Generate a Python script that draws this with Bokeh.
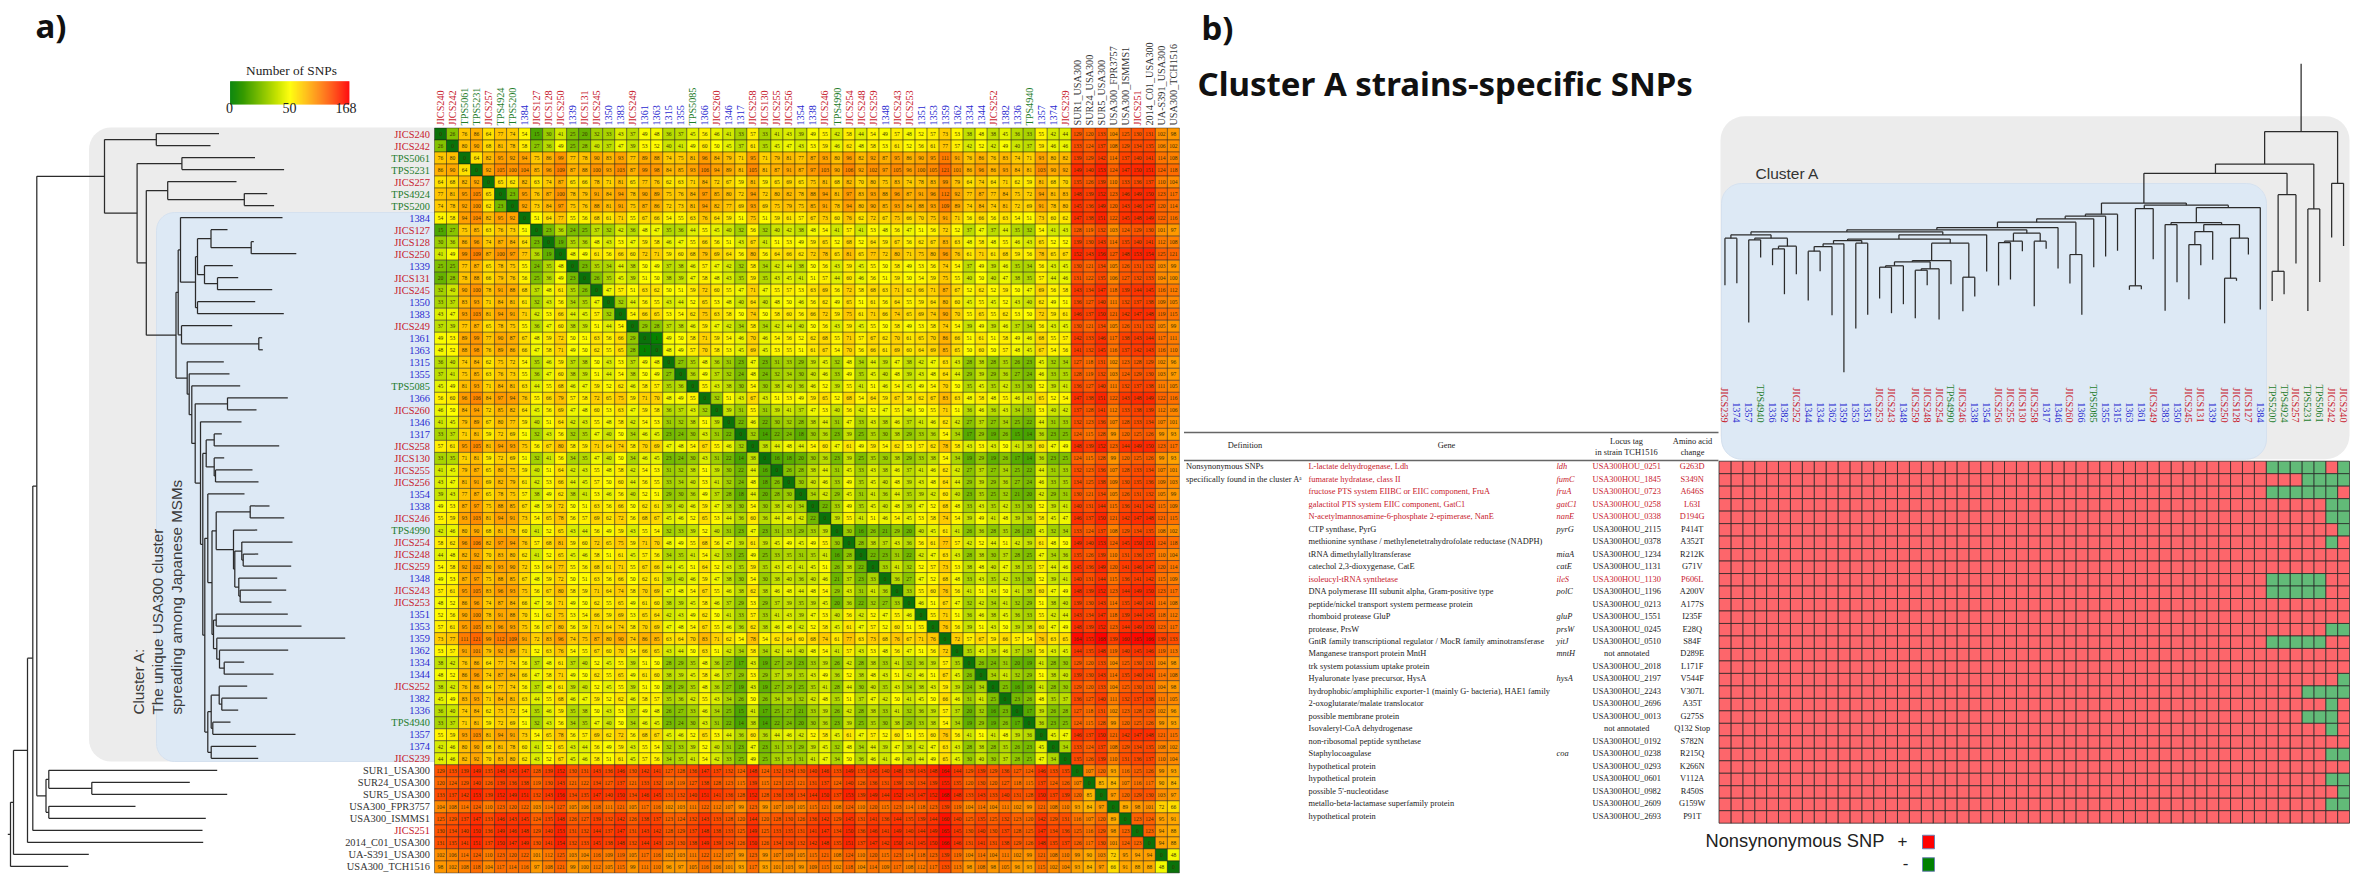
import numpy as np
from bokeh.embed import file_html
from bokeh.resources import INLINE
from bokeh.plotting import figure
from bokeh.models import Range1d, ColumnDataSource
from bokeh.core.properties import value

strains = ["JICS240","JICS242","TPS5061","TPS5231","JICS257","TPS4924","TPS5200","1384","JICS127","JICS128","JICS250","1339","JICS131","JICS245","1350","1383","JICS249","1361","1363","1315","1355","TPS5085","1366","JICS260","1346","1317","JICS258","JICS130","JICS255","JICS256","1354","1338","JICS246","TPS4990","JICS254","JICS248","JICS259","1348","JICS243","JICS253","1351","1353","1359","1362","1334","1344","JICS252","1382","1336","TPS4940","1357","1374","JICS239"]
outgroup = ["SUR1_USA300","SUR24_USA300","SUR5_USA300","USA300_FPR3757","USA300_ISMMS1","JICS251","2014_C01_USA300","UA-S391_USA300","USA300_TCH1516"]

# SNP distances among the 53 clustered strains: upper triangle, row by row
snps_upper = """26 76 86 64 77 74 54 15 30 41 25 20 32 33 43 37 49 48 36 37 45 56 46 41 33 57 33 41 43 39 49 55 42 58 44 54 49 57 48 52 57 73 53 38 48 38 45 36 33 55 42 44
80 90 68 81 78 58 27 36 49 25 28 40 37 47 39 53 52 40 41 49 60 50 45 37 61 35 45 47 43 53 59 46 62 48 58 53 61 52 56 61 77 57 42 52 42 49 40 37 59 46 46
64 82 95 92 94 75 86 99 77 78 90 83 93 77 89 88 74 75 81 96 84 79 71 95 71 79 81 77 87 93 80 96 82 92 87 95 86 90 95 111 91 76 86 76 83 74 71 93 80 82
92 105 100 104 85 96 109 87 88 100 93 103 87 99 98 84 85 93 106 94 89 81 105 81 87 91 87 97 103 90 106 92 102 97 105 96 100 105 121 101 86 96 86 93 84 81 103 90 92
65 62 82 63 74 87 65 66 78 71 81 65 77 76 62 63 71 84 72 67 59 81 59 65 69 65 75 81 68 82 70 80 75 83 74 78 83 99 79 64 74 64 71 62 59 81 68 70
23 95 76 87 100 78 79 91 84 94 78 90 89 75 76 84 97 85 80 72 94 72 80 82 78 88 94 81 97 83 93 88 96 87 91 96 112 92 77 87 77 84 75 72 94 81 83
92 73 84 97 75 76 88 81 91 75 87 86 72 73 81 94 82 77 69 93 69 75 79 75 85 91 78 94 80 90 85 93 84 88 93 109 89 74 84 74 81 72 69 91 78 80
51 64 77 55 56 68 61 71 55 67 66 54 55 63 76 64 59 51 75 51 59 61 57 67 73 60 76 62 72 67 75 66 70 75 91 71 56 66 56 63 54 51 73 60 62
23 36 24 25 37 32 42 36 48 47 35 36 44 55 45 40 32 56 32 40 42 38 48 54 41 57 41 53 48 56 47 51 56 72 52 37 47 37 44 35 32 54 41 43
19 35 36 48 43 53 47 59 58 46 47 55 66 56 51 43 67 41 51 53 49 59 65 52 68 52 64 59 67 56 62 67 83 63 48 58 48 55 46 43 65 52 52
48 49 61 56 66 60 72 71 59 60 68 79 69 64 56 80 56 64 66 62 72 78 65 81 65 77 72 80 71 75 80 96 76 61 71 61 68 59 56 78 65 67
23 35 34 44 38 50 49 37 38 46 57 47 42 32 58 34 42 44 38 50 56 43 59 45 55 50 58 49 53 56 74 54 37 49 39 46 35 34 56 43 45
26 35 45 39 51 50 38 39 47 58 48 43 35 59 35 43 45 41 51 57 44 60 46 56 51 59 50 54 59 75 55 40 50 40 47 38 35 57 44 46
47 57 51 63 62 50 51 59 72 60 55 47 71 47 55 57 53 63 69 56 72 58 68 63 71 62 66 71 87 67 52 62 52 59 50 47 69 56 58
32 44 56 55 43 44 52 65 53 48 40 64 40 48 50 46 56 62 49 65 51 61 56 64 55 59 64 80 60 45 55 45 52 43 40 62 49 51
54 66 65 53 54 62 75 63 58 50 74 50 58 60 56 66 72 59 75 61 71 66 74 65 69 74 90 70 55 65 55 62 53 50 72 59 61
29 28 37 38 46 59 47 42 34 58 34 42 44 40 50 56 43 59 45 55 50 58 49 53 58 74 54 39 49 39 46 37 34 56 43 45
1 49 50 58 71 59 54 46 70 46 54 56 52 62 68 55 71 57 67 62 70 61 65 70 86 66 51 61 51 58 49 46 68 55 57
48 49 57 70 58 53 45 69 45 53 55 51 61 67 54 70 56 66 61 69 60 64 69 85 65 50 60 50 57 48 45 67 54 56
27 35 48 36 31 23 47 23 31 33 29 39 45 32 48 34 44 39 47 38 42 47 63 43 28 38 28 35 26 23 45 32 34
36 49 37 32 24 48 24 32 34 30 40 46 33 49 35 45 40 48 39 43 48 64 44 29 39 29 36 27 24 46 33 35
55 43 38 30 54 30 38 40 36 46 52 39 55 41 51 46 54 45 49 54 70 50 35 45 35 42 33 30 52 39 41
32 51 43 67 43 51 53 49 59 65 52 68 54 64 59 67 58 62 67 83 63 48 58 48 55 46 43 65 52 54
39 31 55 31 39 41 37 47 53 40 56 42 52 47 55 46 50 55 71 51 36 46 36 43 34 31 53 40 42
22 46 22 30 32 28 38 44 31 47 33 43 38 46 37 41 46 62 42 27 37 27 34 25 22 44 31 33
32 14 22 24 18 30 36 23 39 25 35 30 38 29 33 36 54 34 17 29 19 26 15 14 36 23 25
38 44 48 44 54 60 47 61 49 59 54 62 53 57 62 78 58 43 53 43 50 41 38 60 47 49
16 18 20 30 36 23 39 25 35 30 38 29 33 38 54 34 19 29 19 26 17 14 36 23 25
26 28 38 44 31 45 33 43 38 46 37 41 46 62 42 27 37 27 34 25 22 44 31 33
30 40 46 33 49 35 45 40 48 39 43 48 64 44 29 39 29 36 27 24 46 33 35
34 42 29 45 31 41 36 44 35 39 42 60 40 23 35 25 32 21 20 42 29 31
22 33 49 35 45 40 48 39 47 52 68 48 33 43 35 42 33 30 52 39 41
39 55 41 51 46 54 45 53 58 74 54 39 49 41 48 39 36 58 45 47
30 16 26 21 29 20 40 45 61 41 26 36 28 35 26 23 45 32 34
28 38 37 43 36 56 61 77 57 42 52 44 51 42 39 61 48 50
22 23 31 22 42 47 63 43 28 38 30 37 28 25 47 34 36
33 41 32 52 57 73 53 38 48 40 47 38 35 57 44 46
36 27 47 52 68 48 33 43 35 42 33 30 52 39 41
33 55 60 76 56 41 51 43 50 41 38 60 47 49
46 51 67 47 32 42 34 41 32 29 51 38 40
55 71 51 36 46 38 45 36 33 55 42 44
76 56 39 51 43 50 39 38 60 47 49
72 57 67 59 66 57 54 76 63 65
35 45 39 46 37 34 56 43 45
26 24 31 20 19 41 28 30
34 41 32 29 51 38 40
25 16 19 41 28 30
23 26 48 35 37
17 39 26 28
36 23 25
45 47
34"""

# SNP distance of each outgroup strain to the 53 clustered strains
sur1_row = [129,133,139,149,135,148,145,147,128,139,152,130,131,143,136,146,130,142,141,127,128,136,147,137,132,124,148,124,132,134,130,140,146,133,149,135,145,140,148,139,143,148,164,144,129,139,129,136,127,124,146,133,135]
sur24_row = [120,124,129,140,126,139,136,138,119,130,143,121,122,134,127,137,121,133,132,118,119,127,138,128,123,115,139,115,123,125,121,131,137,124,140,126,136,131,139,130,134,139,155,135,120,130,120,127,118,115,137,124,126]
sur5_row = [133,137,142,153,139,152,149,151,132,143,156,134,135,147,140,150,134,146,145,131,132,140,151,141,136,128,152,128,136,138,134,144,150,137,153,139,149,144,152,143,147,152,168,148,133,143,133,140,131,128,150,137,139]
fpr_row = [104,108,114,124,110,123,120,122,103,114,127,105,106,118,111,121,105,117,116,102,103,111,122,112,107,99,123,99,107,109,105,115,121,108,124,110,120,115,123,114,118,123,139,119,104,114,104,111,102,99,121,108,110]
ismms_row = [125,129,137,147,133,146,143,145,124,135,148,126,127,139,132,142,126,138,137,123,124,132,143,133,128,120,144,120,128,130,126,136,142,129,145,131,141,136,144,135,139,144,160,140,125,135,125,132,123,120,142,129,131]
j251_row = [130,134,140,150,136,149,146,148,129,140,153,131,132,144,137,147,131,143,142,128,129,137,148,138,133,125,149,125,133,135,131,141,147,134,150,136,146,141,149,140,144,149,165,145,130,140,130,137,128,125,147,134,136]
c01_row = [131,135,141,151,137,150,147,149,130,141,154,132,133,145,138,148,132,144,143,129,130,138,149,139,134,126,150,126,134,136,132,142,148,135,151,137,147,142,150,141,145,150,166,146,131,141,131,138,129,126,148,135,137]
ua_row = [102,106,114,124,110,123,120,122,101,112,125,103,104,116,109,119,105,117,116,102,103,111,122,112,107,99,123,99,107,109,105,115,121,108,124,110,120,115,123,114,118,123,139,119,104,114,104,111,102,99,121,108,110]
tch_row = [98,102,108,118,104,117,114,116,97,108,121,99,100,112,105,115,99,111,110,96,97,105,116,106,101,93,117,93,101,103,99,109,115,102,118,104,114,109,117,108,112,117,133,113,98,108,98,105,96,93,115,102,104]
outgroup_rows = [sur1_row, sur24_row, sur5_row, fpr_row, ismms_row, j251_row, c01_row, ua_row, tch_row]
outgroup_block = [
    [0,107,120,93,116,125,126,99,93],
    [107,0,85,84,107,116,117,90,84],
    [120,85,0,97,120,129,130,103,97],
    [93,84,97,0,89,98,101,72,66],
    [116,107,120,89,0,123,124,95,91],
    [125,116,129,98,123,0,123,94,88],
    [126,117,130,101,124,123,0,94,88],
    [99,90,103,72,95,94,94,0,48],
    [93,84,97,66,91,88,88,48,0],
]

# Phylogeny: (depth, child, child) or (depth of tip, strain)
c_S = (197, (210.5, (227,"JICS127"), (250.7, (253.3,"JICS128"), (295.8,"JICS250"))), (204, (232.3,"1339"), (217, (237.7,"JICS131"), (271.7,"JICS245"))))
c_Q = (195, c_S, (197, (254.7,"1350"), (283.3,"1383")))
c_P = (180, (282,"1384"), c_Q)
c_Z = (181, (231.7,"JICS249"), (258.3, (261.7,"1361"), (262.3,"1363")))
c_N = (177.7, c_P, c_Z)
c_OO = (234.3, (241.3, (292,"JICS254"), (242.7, (257.7,"JICS248"), (290.7,"JICS259"))), (238.3, (276.7,"1348"), (239.7, (285.7,"JICS243"), (271,"JICS253"))))
c_UU = (215.7, (249.7, (269,"1338"), (283.7,"JICS246")), (233, (256.7,"TPS4990"), c_OO))
c_VV = (213, (215.7, (287.3,"1351"), (301,"1353")), (216.3, (344.7,"1359"), (219, (287.7,"1362"), (223.7, (243.7,"1334"), (273,"1344")))))
c_JJ = (207.3, (244,"1354"), (211.5, c_UU, c_VV))
c_KK = (207.3, (210.7, (218.7, (246.7,"JICS252"), (221.3, (266.7,"1382"), (237.7,"1336"))), (212.3, (230,"TPS4940"), (295,"1357"))), (210.7, (255.7,"1374"), (257.7,"JICS239")))
c_HH = (205.7, (213.7, (221.3,"1317"), (278.7,"JICS258")), (213.7, (223.7,"JICS130"), (215, (252,"JICS255"), (258,"JICS256"))))
c_GG = (202.3, c_HH, (204.3, c_JJ, c_KK))
c_DD = (194.7, (227, (287.3,"1366"), (256,"JICS260")), (200, (241,"1346"), c_GG))
c_AA = (186.7, (223.3,"1315"), (188.7, (229,"1355"), (191.3, (239.7,"TPS5085"), c_DD)))
c_A = (175.5, c_N, c_AA)
c_J = (145.8, (167.2, (236,"JICS257"), (243.8, (266.7,"TPS4924"), (273.6,"TPS5200"))), c_A)
clade_main = (104, (155.8, (218.5,"JICS240"), (210,"JICS242")), (136.6, (181.4, (254.5,"TPS5061"), (283.6,"TPS5231")), c_J))
clade_outgroup = (45.5,
  (48.3, (216.7,"SUR1_USA300"), (91.3, (189.3,"SUR24_USA300"), (226.7,"SUR5_USA300"))),
  (48.3, (135,"USA300_FPR3757"), (205.3,"USA300_ISMMS1")))
tree_root = (10,
  (13,
    (27,
      (32.3, (36.3, clade_main, clade_outgroup), (202,"JICS251")),
      (202.7,"2014_C01_USA300")),
    (88.3,"UA-S391_USA300")),
  (67.7,"USA300_TCH1516"))

# Table b)
gene_names = ["L-lactate dehydrogenase, Ldh","fumarate hydratase, class II","fructose PTS system EIIBC or EIIC component, FruA","galactitol PTS system EIIC component, GatC1","N-acetylmannosamine-6-phosphate 2-epimerase, NanE","CTP synthase, PyrG","methionine synthase / methylenetetrahydrofolate reductase (NADPH)","tRNA dimethylallyltransferase","catechol 2,3-dioxygenase, CatE","isoleucyl-tRNA synthetase","DNA polymerase III subunit alpha, Gram-positive type","peptide/nickel transport system permease protein","rhomboid protease GluP","protease, PrsW","GntR family transcriptional regulator / MocR family aminotransferase","Manganese transport protein MntH","trk system potassium uptake protein","Hyaluronate lyase precursor, HysA","hydrophobic/amphiphilic exporter-1 (mainly G- bacteria), HAE1 family","2-oxoglutarate/malate translocator","possible membrane protein","Isovaleryl-CoA dehydrogenase","non-ribosomal peptide synthetase","Staphylocoagulase","hypothetical protein","hypothetical protein","possible 5'-nucleotidase","metallo-beta-lactamase superfamily protein","hypothetical protein"]
gene_symbols = ["ldh","fumC","fruA","gatC1","nanE","pyrG","","miaA","catE","ileS","polC","","gluP","prsW","yitJ","mntH","","hysA","","","","","","coa","","","","",""]
locus_tags = ["USA300HOU_0251","USA300HOU_1845","USA300HOU_0723","USA300HOU_0258","USA300HOU_0338","USA300HOU_2115","USA300HOU_0378","USA300HOU_1234","USA300HOU_1131","USA300HOU_1130","USA300HOU_1196","USA300HOU_0213","USA300HOU_1551","USA300HOU_0245","USA300HOU_0510","not annotated","USA300HOU_2018","USA300HOU_2197","USA300HOU_2243","USA300HOU_2696","USA300HOU_0013","not annotated","USA300HOU_0192","USA300HOU_0238","USA300HOU_0293","USA300HOU_0601","USA300HOU_0982","USA300HOU_2609","USA300HOU_2693"]
aa_changes = ["G263D","S349N","A646S","L63I","D194G","P414T","A352T","R212K","G71V","P606L","A200V","A177S","I235F","E28Q","S84F","D289E","L171F","V544F","V307L","A35T","G275S","Q132 Stop","S782N","R215Q","K266N","V112A","R450S","G159W","P91T"]
highlighted_genes = ["ldh","fumC","fruA","gatC1","nanE","ileS"]
# Strains lacking each nonsynonymous SNP (every other strain carries it)
five_tps = ["TPS5200","TPS4924","JICS257","TPS5231","TPS5061"]
snp_absent = [
    five_tps+["JICS240"], ["TPS5231","TPS5061","JICS242","JICS240"], five_tps+["JICS242"],
    ["JICS242","JICS240"], ["JICS242","JICS240"], ["JICS240"], ["JICS242"], [], [],
    five_tps, five_tps, [], [], ["JICS242","JICS240"], five_tps, [], [], ["JICS240"],
    ["TPS5231","TPS5061","JICS242","JICS240"], ["JICS242"], ["TPS5231","TPS5061","JICS242"],
    ["JICS242"], [], ["JICS242","JICS240"], [], ["JICS242","JICS240"], ["JICS240"],
    ["JICS242","JICS240"], [],
]
legend_ticks = [0, 50, 168]

# --- assemble the matrix ---
all_strains = strains + outgroup
N = len(all_strains)
M = np.zeros((N, N), dtype=int)
for i, line in enumerate(snps_upper.split("\n")):
    vals = [int(v) for v in line.split()]
    assert len(vals) == 52 - i, f"row {i} has {len(vals)}"
    for k, v in enumerate(vals):
        M[i, i+1+k] = M[i+1+k, i] = v
for o, rowvals in enumerate(outgroup_rows):
    assert len(rowvals) == 53, f"outgroup {o} {len(rowvals)}"
    for j, v in enumerate(rowvals):
        M[53+o, j] = M[j, 53+o] = v
    for j, v in enumerate(outgroup_block[o]):
        M[53+o, 53+j] = v

def snp_color(v):
    if v <= 50:
        t = v/50
        r, g, b = 255*t, 128+127*t, 0
    else:
        t = min((v-50)/118, 1)
        r, g, b = 255, 255*(1-t), 0
    return "#%02x%02x%02x" % (int(r), int(g), int(b))

RED, GREEN, BLUE, BLACK = "#c8202c", "#1f7d2c", "#2a2ad0", "#333333"
def label_color(s):
    if s.startswith("JICS"): return RED
    if s.startswith("TPS"): return GREEN
    if s[0].isdigit() and "_" not in s: return BLUE
    return BLACK

W, H = 2360, 881
p = figure(width=W, height=H, output_backend="svg", toolbar_location=None,
           x_range=Range1d(0, W), y_range=Range1d(H, 0),
           x_axis_type=None, y_axis_type=None, min_border=0,
           outline_line_color=None, background_fill_color="white", border_fill_color="white")
p.grid.visible = False

SERIF = value("Liberation Serif")
SANS = value("Liberation Sans")

def rounded(x0, y0, x1, y1, r):
    xs, ys = [], []
    def arc(cx, cy, a0):
        for a in np.linspace(a0, a0+np.pi/2, 10):
            xs.append(cx+r*np.cos(a)); ys.append(cy+r*np.sin(a))
    arc(x1-r, y0+r, -np.pi/2)
    arc(x1-r, y1-r, 0)
    arc(x0+r, y1-r, np.pi/2)
    arc(x0+r, y0+r, np.pi)
    return xs, ys

def left_panel(x0, y0, x1, y1, r):
    xs, ys = [x1, x0+r], [y0, y0]
    for a in np.linspace(-np.pi/2, -np.pi, 10):
        xs.append(x0+r+r*np.cos(a)); ys.append(y0+r+r*np.sin(a))
    for a in np.linspace(np.pi, np.pi/2, 10):
        xs.append(x0+r+r*np.cos(a)); ys.append(y1-r+r*np.sin(a))
    xs.append(x1); ys.append(y1)
    return xs, ys

GRAY_BG, BLUE_BG = "#ececec", "#dde9f5"
gx, gy = left_panel(88.5, 127, 434, 761, 22)
p.patch(gx, gy, fill_color=GRAY_BG, line_color=None)
bx, by = left_panel(156, 212, 434, 761, 18)
p.patch(bx, by, fill_color=BLUE_BG, line_color="#d5e1ef", line_width=1)
gx, gy = rounded(1720, 115.7, 2349, 458.7, 24)
p.patch(gx, gy, fill_color=GRAY_BG, line_color=None)
bx, by = rounded(1721, 183, 2266, 458.7, 20)
p.patch(bx, by, fill_color=BLUE_BG, line_color="#d5e1ef", line_width=1)

# --- heat map a) ---
MX0, MY0, CELL = 434.0, 127.5, 12.015
cx = lambda i: MX0 + CELL*(i+.5)
cy = lambda i: MY0 + CELL*(i+.5)
xs_, ys_, cols_, txt_ = [], [], [], []
for i in range(N):
    for j in range(N):
        xs_.append(cx(j)); ys_.append(cy(i)); txt_.append(str(M[i, j]))
        cols_.append("#0a720a" if M[i, j] == 0 else snp_color(M[i, j]))
src = ColumnDataSource(dict(x=xs_, y=ys_, c=cols_, t=txt_))
p.rect(x="x", y="y", width=CELL, height=CELL, fill_color="c", line_color="#1a1a1a", line_alpha=0.55, line_width=0.8, source=src)
p.text(x="x", y="y", text="t", text_font=SERIF, text_font_size=value("5.5px"), text_align="center",
       text_baseline="middle", text_color="#3a3300", source=src)

names = all_strains
p.text(x=[429.5]*N, y=[cy(i) for i in range(N)], text=names, text_font=SERIF, text_font_size=value("10.4px"),
       text_align="right", text_baseline="middle", text_color=[label_color(s) for s in names])
p.text(x=[cx(i) for i in range(N)], y=[125]*N, text=names, angle=np.pi/2, text_font=SERIF, text_font_size=value("10.2px"),
       text_align="left", text_baseline="middle", text_color=[label_color(s) for s in names])

# --- colour legend a) ---
LX0, LX1, LY0, LY1 = 229.6, 348.6, 80.7, 104.0
vals = np.concatenate([np.linspace(0, 50, 60, endpoint=False), np.linspace(50, 168, 60)])
edges = np.linspace(LX0, LX1, len(vals)+1)
p.quad(left=edges[:-1], right=edges[1:]+0.3, top=LY0, bottom=LY1, fill_color=[snp_color(v) for v in vals], line_color=None)
p.text(x=[229, 289, 345.5], y=[107.5]*3, text=[str(v) for v in legend_ticks], text_font=SERIF, text_font_size=value("14px"),
       text_align="center", text_baseline="middle", text_color="#222222")
p.text(x=[291], y=[70], text=["Number of SNPs"], text_font=SERIF, text_font_size=value("13.3px"),
       text_align="center", text_baseline="middle", text_color="#222222")

# --- trees ---
row_of = {s: i for i, s in enumerate(all_strains)}
def walk(node, parent_depth, leaf_pos, segs):
    """Returns the cross position of node, appends (depth0, depth1, c0, c1) segments."""
    depth = node[0]
    if isinstance(node[1], str):
        c = leaf_pos(node[1])
        segs.append((parent_depth, depth, c, c))
        return c
    kids = [walk(k, depth, leaf_pos, segs) for k in node[1:]]
    c = (kids[0]+kids[-1])/2
    segs.append((depth, depth, kids[0], kids[-1]))
    segs.append((parent_depth, depth, c, c))
    return c

segs_a = []
walk(tree_root, 7.3, lambda s: cy(row_of[s]) - 0.5, segs_a)
p.multi_line([[a, b] for a, b, c, d in segs_a], [[c, d] for a, b, c, d in segs_a], line_color="#2b2b2b", line_width=1.25)

BX0, BW, BY0, BH = 1718.5, (2349-1718.5)/53, 460.7, (822.7-460.7)/29
col_x = lambda k: BX0 + BW*(k+.5)
DEPTH_TO_Y = 27
segs_b = []
walk(clade_main, 36.3, lambda s: col_x(52-row_of[s]), segs_b)
p.multi_line([[c, d] for a, b, c, d in segs_b], [[a+DEPTH_TO_Y, b+DEPTH_TO_Y] for a, b, c, d in segs_b],
             line_color="#2b2b2b", line_width=1.25)

# --- SNP presence grid b) ---
gx_, gy_, gc_ = [], [], []
for r, absent in enumerate(snp_absent):
    for i, s in enumerate(strains):
        gx_.append(col_x(52-i)); gy_.append(BY0+BH*(r+.5))
        gc_.append("#62bb78" if s in absent else "#fd666b")
p.rect(x=gx_, y=gy_, width=BW, height=BH, fill_color=gc_, line_color="#222222", line_alpha=0.8, line_width=0.9)
p.text(x=[col_x(52-i) for i in range(53)], y=[422]*53, text=strains, angle=-np.pi/2, text_font=SERIF,
       text_font_size=value("10.2px"), text_align="right", text_baseline="middle",
       text_color=[label_color(s) for s in strains])

# --- table b) ---
RULE_X0, RULE_X1 = 1183.5, 1718
p.segment(x0=[RULE_X0, RULE_X0], x1=[RULE_X1, RULE_X1], y0=[432, 460], y1=[432, 460], line_color="#666666", line_width=1.4)
HEAD = dict(text_font=SERIF, text_font_size=value("8.4px"), text_baseline="middle", text_color="#222222", text_align="center")
p.text(x=[1244.5, 1446, 1626, 1692, 1626, 1692], y=[445, 445, 440.7, 440.7, 451.5, 451.5],
       text=["Definition", "Gene", "Locus tag", "Amino acid", "in strain TCH1516", "change"], **HEAD)
row_y = [BY0+BH*(i+.5)-.7 for i in range(len(gene_names))]
row_c = [RED if g in highlighted_genes else "#222222" for g in gene_symbols]
BODY = dict(text_font=SERIF, text_font_size=value("8.4px"), text_baseline="middle")
p.text(x=[1185.5]*2, y=row_y[:2], text=["Nonsynonymous SNPs", "specifically found in the cluster A\u1d43"], text_color="#222222", text_align="left", **BODY)
p.text(x=[1308]*len(row_y), y=row_y, text=gene_names, text_color=row_c, text_align="left", **BODY)
p.text(x=[1556]*len(row_y), y=row_y, text=gene_symbols, text_color=row_c, text_align="left", text_font_style="italic", **BODY)
p.text(x=[1626.3]*len(row_y), y=row_y, text=locus_tags, text_color=row_c, text_align="center", **BODY)
p.text(x=[1691.7]*len(row_y), y=row_y, text=aa_changes, text_color=row_c, text_align="center", **BODY)

# --- headings and annotation ---
BOLD = dict(text_font=value("Noto Sans"), text_font_style="bold", text_baseline="middle", text_align="left", text_color="#111111")
p.text(x=[35], y=[25], text=["a)"], text_font_size=value("33px"), **BOLD)
p.text(x=[1201], y=[27], text=["b)"], text_font_size=value("33px"), **BOLD)
p.text(x=[1197], y=[83], text=["Cluster A strains-specific SNPs"], text_font_size=value("33px"), **BOLD)
p.text(x=[137.7, 156.7, 175.7], y=[714]*3, text=["Cluster A:", "The unique USA300 cluster", "spreading among Japanese MSMs"],
       angle=np.pi/2, text_font=SANS, text_font_size=value("15.2px"), text_align="left", text_baseline="middle", text_color="#3a3a3a")
p.text(x=[1755], y=[173], text=["Cluster A"], text_font=SANS, text_font_size=value("15.5px"), text_align="left", text_baseline="middle", text_color="#333333")
p.text(x=[1705], y=[840], text=["Nonsynonymous SNP"], text_font=SANS, text_font_size=value("18.3px"), text_align="left", text_baseline="middle", text_color="#222222")
p.text(x=[1902, 1905], y=[840, 862], text=["+", "-"], text_font=SANS, text_font_size=value("17px"), text_align="center", text_baseline="middle", text_color="#222222")
p.rect(x=[1928, 1928], y=[841.5, 864], width=12, height=13.5, fill_color=["#ff0000", "#008000"], line_color="#6a80b0", line_width=1)

open("out.html", "w").write(file_html(p, INLINE))
